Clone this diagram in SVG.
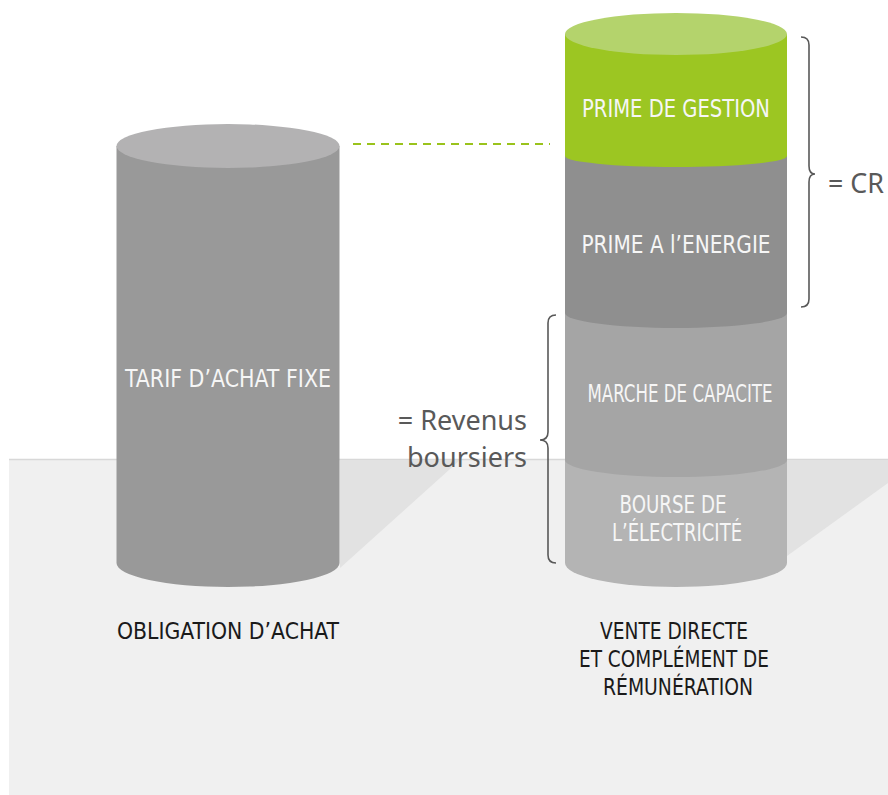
<svg xmlns="http://www.w3.org/2000/svg" width="888" height="795" viewBox="0 0 888 795">
<style>
.cyl{font-family:"DejaVu Sans Condensed","DejaVu Sans",sans-serif;font-stretch:condensed;font-size:25px;fill:#f6f6f6;text-anchor:middle}
.lab{font-family:"DejaVu Sans Condensed","DejaVu Sans",sans-serif;font-stretch:condensed;font-size:23px;fill:#1a1a1a;text-anchor:middle}
.note{font-family:"Noto Sans","Open Sans",sans-serif;font-size:27px;fill:#595959}
.brace{fill:none;stroke:#595959;stroke-width:1.6}
</style>
<rect width="888" height="795" fill="#ffffff"/>
<g id="floor">
<rect x="9" y="459" width="879" height="336" fill="#f0f0f0"/>
<line x1="9" y1="459.5" x2="888" y2="459.5" stroke="#d8d8d8" stroke-width="1.5"/>
<polygon points="340,460 460,460 340,568" fill="#e2e2e2"/>
<polygon points="787,460 888,460 888,483 787,556" fill="#e2e2e2"/>
</g>
<g id="cylinder-left">
<path d="M116.5,146 L116.5,563 A111.5,24 0 0 0 339.5,563 L339.5,146 Z" fill="#999999"/>
<ellipse cx="228" cy="146" rx="111.5" ry="22" fill="#b3b2b3"/>
<text class="cyl" x="228" y="387" textLength="206" lengthAdjust="spacingAndGlyphs">TARIF D’ACHAT FIXE</text>
</g>
<g id="cylinder-right">
<g id="bourse">
<path d="M565,455 L565,563 A111,24 0 0 0 787,563 L787,455 Z" fill="#b4b4b4"/>
<text class="cyl" x="673" y="513" font-size="22" textLength="107" lengthAdjust="spacingAndGlyphs">BOURSE DE</text>
<text class="cyl" x="677" y="541" font-size="22" textLength="130" lengthAdjust="spacingAndGlyphs">L’ÉLECTRICITÉ</text>
</g>
<g id="marche">
<path d="M565,305 L565,460 A111,17 0 0 0 787,460 L787,305 Z" fill="#a5a5a5"/>
<text class="cyl" x="680" y="402" font-size="23" textLength="185" lengthAdjust="spacingAndGlyphs">MARCHE  DE CAPACITE</text>
</g>
<g id="prime-energie">
<path d="M565,150 L565,313 A111,15 0 0 0 787,313 L787,150 Z" fill="#8f8f8f"/>
<text class="cyl" x="676" y="253" textLength="189" lengthAdjust="spacingAndGlyphs">PRIME A l’ENERGIE</text>
</g>
<g id="prime-gestion">
<path d="M565,34 L565,156 A111,11 0 0 0 787,156 L787,34 Z" fill="#9cc622"/>
<ellipse cx="676" cy="34" rx="111" ry="21" fill="#b4d36c"/>
<text class="cyl" x="676" y="117" fill="#f6f8e6" textLength="188" lengthAdjust="spacingAndGlyphs">PRIME DE GESTION</text>
</g>
</g>
<g id="connectors">
<line x1="353" y1="144" x2="550" y2="144" stroke="#9ac31c" stroke-width="2" stroke-dasharray="8 6"/>
<path class="brace" d="M801,37 Q809,37 809,45 L809,166 Q809,174 815,174 Q809,174 809,182 L809,299 Q809,307 801,307"/>
<path class="brace" d="M556,315 Q548,315 548,323 L548,432 Q548,440 540,440 Q548,440 548,448 L548,555 Q548,563 556,563"/>
</g>
<g id="notes">
<text class="note" x="828" y="193" textLength="56" lengthAdjust="spacingAndGlyphs">= CR</text>
<text class="note" x="527" y="430" text-anchor="end">= Revenus</text>
<text class="note" x="527" y="467" text-anchor="end">boursiers</text>
</g>
<g id="labels">
<text class="lab" x="228" y="639" textLength="222" lengthAdjust="spacingAndGlyphs">OBLIGATION D’ACHAT</text>
<text class="lab" x="674" y="639" textLength="148" lengthAdjust="spacingAndGlyphs">VENTE DIRECTE</text>
<text class="lab" x="674" y="667" textLength="190" lengthAdjust="spacingAndGlyphs">ET COMPLÉMENT DE</text>
<text class="lab" x="678" y="695" textLength="150" lengthAdjust="spacingAndGlyphs">RÉMUNÉRATION</text>
</g>
</svg>
